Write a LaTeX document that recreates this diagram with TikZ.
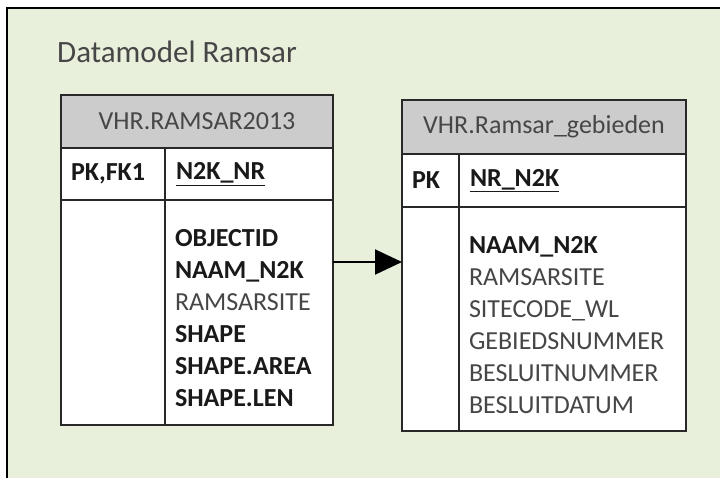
\documentclass[tikz,border=0pt]{standalone}
\usepackage{fontspec}
\setmainfont{Carlito}
\usetikzlibrary{positioning, arrows.meta}
\definecolor{dmGreen}{RGB}{232,240,220}
\definecolor{dmHead}{RGB}{204,204,204}
\definecolor{dmLine}{RGB}{40,40,40}
\definecolor{dmText}{RGB}{70,70,70}
\definecolor{dmDark}{RGB}{25,25,25}
\newcommand{\keyfld}[1]{\textcolor{dmDark}{\textbf{#1}}}

\begin{document}
\begin{tikzpicture}[
      x=1pt, y=-1pt,
      cell/.style={draw=dmLine, line width=1.6pt, rectangle, fill=white, inner sep=0pt, outer sep=0pt, text=dmText, font=\fontsize{26}{32}\selectfont},
      tblhead/.style={cell, fill=dmHead, anchor=north west},
      tblcol/.style={cell, align=left, inner xsep=10pt},
      link/.style={-{Triangle[length=27pt,width=25pt]}, line width=2pt, black}
    ]
      \useasboundingbox (0,0) rectangle (720,477);
      \fill[dmGreen] (7,8) rectangle (730,490);
      \draw[line width=2pt, black] (7,490) -- (7,8) -- (730,8);
      \node[anchor=base west, inner sep=0pt, text=dmText, font=\fontsize{31}{37}\selectfont] (title) at (57,62) {Datamodel Ramsar};

      % VHR.RAMSAR2013
      \node[tblhead, minimum width=272pt, minimum height=53pt] (r13Head) at (61,95) {VHR.RAMSAR2013};
      \node[tblcol, below=0pt of r13Head.south west, anchor=north west, text width=84pt, minimum height=52pt, font=\fontsize{26}{32}\selectfont\bfseries, text=dmDark] (r13Key) {PK,FK1};
      \node[tblcol, right=0pt of r13Key, inner xsep=11pt, text width=146pt, minimum height=52pt, font=\fontsize{26}{32}\selectfont\bfseries, text=dmDark] (r13Name) {\underline{N2K\_NR}};
      \node[cell, below=0pt of r13Key, minimum width=104pt, minimum height=225pt] (r13Pad) {};
      \node[tblcol, below=0pt of r13Name, text width=148pt, minimum height=225pt] (r13Body) {\rule{0pt}{29pt}\keyfld{OBJECTID}\\ \keyfld{NAAM\_N2K}\\ RAMSARSITE\\ \keyfld{SHAPE}\\ \keyfld{SHAPE.AREA}\\ \keyfld{SHAPE.LEN}};

      % VHR.Ramsar_gebieden
      \node[tblhead, minimum width=284pt, minimum height=54pt] (gebHead) at (402,100) {VHR.Ramsar\_gebieden};
      \node[tblcol, below=0pt of gebHead.south west, anchor=north west, text width=37pt, minimum height=53pt, font=\fontsize{26}{32}\selectfont\bfseries, text=dmDark] (gebKey) {PK};
      \node[tblcol, right=0pt of gebKey, inner xsep=11pt, text width=205pt, minimum height=53pt, font=\fontsize{26}{32}\selectfont\bfseries, text=dmDark] (gebName) {\underline{NR\_N2K}};
      \node[cell, below=0pt of gebKey, minimum width=57pt, minimum height=224pt] (gebPad) {};
      \node[tblcol, below=0pt of gebName, text width=207pt, minimum height=224pt] (gebBody) {\rule{0pt}{29pt}\keyfld{NAAM\_N2K}\\ RAMSARSITE\\ SITECODE\_WL\\ GEBIEDSNUMMER\\ BESLUITNUMMER\\ BESLUITDATUM};

      \draw[link] ([yshift=50.5pt]r13Body.east) coordinate (arrowStart) -- (arrowStart -| gebPad.west);
    \end{tikzpicture}
\end{document}
